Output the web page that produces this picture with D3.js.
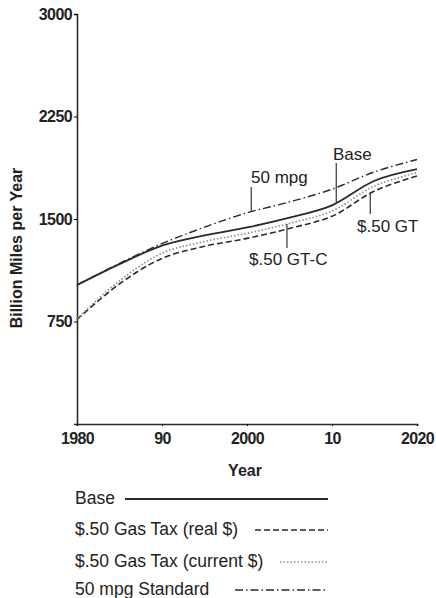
<!DOCTYPE html>
<html>
<head>
<meta charset="utf-8">
<script src="https://cdn.jsdelivr.net/npm/d3@7"></script>
<style>
  body { margin: 0; background: #fff; }
  text { font-family: "Liberation Sans", Arial, sans-serif; fill: #222; }
</style>
</head>
<body>
<div id="chart"></div>
<script>
// data (billion miles per year)
const years = [1980, 1985, 1990, 1995, 2000, 2005, 2010, 2015, 2020];
const baseVals = [1017, 1170, 1305, 1380, 1438, 1510, 1600, 1780, 1865];
const realTaxVals = [765, 1025, 1212, 1300, 1358, 1431, 1520, 1705, 1815];
const currentTaxVals = [770, 1048, 1250, 1335, 1395, 1468, 1558, 1742, 1840];
const mpgVals = [1017, 1175, 1320, 1440, 1545, 1625, 1718, 1845, 1935];
const yTicks = [750, 1500, 2250, 3000];
const xTicks = [1980, 1990, 2000, 2010, 2020];
const xTickLabels = ["1980", "90", "2000", "10", "2020"];
const legendLabels = ["Base", "$.50 Gas Tax (real $)", "$.50 Gas Tax (current $)", "50 mpg Standard"];

const W = 436, H = 598;
const svg = d3.select("#chart").append("svg")
    .attr("width", W).attr("height", H);

const x = d3.scaleLinear().domain([1980, 2020]).range([77, 417]);
const y = d3.scaleLinear().domain([0, 3000]).range([424, 14]);

// series styles
const series = [
    {name: legendLabels[0], vals: baseVals, stroke: "#2a2a2a", width: 1.8, dash: null},
    {name: legendLabels[1], vals: realTaxVals, stroke: "#2a2a2a", width: 1.6, dash: "6,3"},
    {name: legendLabels[2], vals: currentTaxVals, stroke: "#8a8a8a", width: 1.6, dash: "1.5,2"},
    {name: legendLabels[3], vals: mpgVals, stroke: "#2a2a2a", width: 1.4, dash: "8,3,1.5,3"}
];

// axes
const yAxis = d3.axisLeft(y).tickValues(yTicks).tickSize(3).tickPadding(2)
    .tickFormat(d3.format("d"));
const gy = svg.append("g").attr("transform", "translate(77,0)").call(yAxis);
gy.select(".domain").attr("stroke", "#2a2a2a").attr("stroke-width", 1.6);
gy.selectAll("text").attr("font-size", 16).attr("font-weight", "bold")
    .attr("letter-spacing", -0.6).attr("fill", "#222")
    .attr("font-family", "'Liberation Sans', Arial, sans-serif");

const xAxis = d3.axisBottom(x).tickValues(xTicks).tickSize(2).tickPadding(7)
    .tickFormat((d, i) => xTickLabels[i]);
const gx = svg.append("g").attr("transform", "translate(0,424)").call(xAxis);
gx.select(".domain").attr("stroke", "#2a2a2a").attr("stroke-width", 1.6);
gx.selectAll("text").attr("font-size", 16).attr("font-weight", "bold")
    .attr("letter-spacing", -0.6).attr("fill", "#222")
    .attr("font-family", "'Liberation Sans', Arial, sans-serif");

svg.append("text")
    .attr("x", 245).attr("y", 476)
    .attr("text-anchor", "middle")
    .attr("font-size", 16).attr("font-weight", "bold")
    .text("Year");

svg.append("text")
    .attr("transform", "translate(22,248) rotate(-90)")
    .attr("text-anchor", "middle")
    .attr("font-size", 16).attr("font-weight", "bold")
    .text("Billion Miles per Year");

// lines
const line = d3.line()
    .x((d, i) => x(years[i]))
    .y(d => y(d))
    .curve(d3.curveCatmullRom.alpha(0.5));

svg.append("g").selectAll("path")
    .data(series)
    .join("path")
    .attr("d", d => line(d.vals))
    .attr("fill", "none")
    .attr("stroke", d => d.stroke)
    .attr("stroke-width", d => d.width)
    .attr("stroke-dasharray", d => d.dash);

// annotation labels with pointer lines
function valueAt(vals, yr) {
    return d3.scaleLinear().domain(years).range(vals)(yr);
}
const notes = [
    {text: "50 mpg", vals: mpgVals, year: 2000.5, tx: 251, ty: 183, p0: 187},
    {text: "Base", vals: baseVals, year: 2010.5, tx: 333, ty: 160, p0: 163},
    {text: "$.50 GT", vals: realTaxVals, year: 2014.5, tx: 357, ty: 232, p0: 214},
    {text: "$.50 GT-C", vals: currentTaxVals, year: 2004.7, tx: 249, ty: 265, p0: 248}
];
const ng = svg.append("g");
notes.forEach(n => {
    ng.append("line")
        .attr("x1", x(n.year)).attr("x2", x(n.year))
        .attr("y1", n.p0).attr("y2", y(valueAt(n.vals, n.year)))
        .attr("stroke", "#333").attr("stroke-width", 1.2);
    ng.append("text")
        .attr("x", n.tx).attr("y", n.ty)
        .attr("font-size", 17)
        .text(n.text);
});

// legend
const legendY = [499, 530, 562, 590];
const legendX0 = [125, 255, 280, 235];
const lg = svg.append("g");
series.forEach((s, i) => {
    lg.append("text")
        .attr("x", 75).attr("y", legendY[i] + 5)
        .attr("font-size", 17.5)
        .text(s.name);
    lg.append("line")
        .attr("x1", legendX0[i]).attr("x2", 328)
        .attr("y1", legendY[i]).attr("y2", legendY[i])
        .attr("stroke", s.stroke)
        .attr("stroke-width", s.width)
        .attr("stroke-dasharray", s.dash);
});
</script>
</body>
</html>
